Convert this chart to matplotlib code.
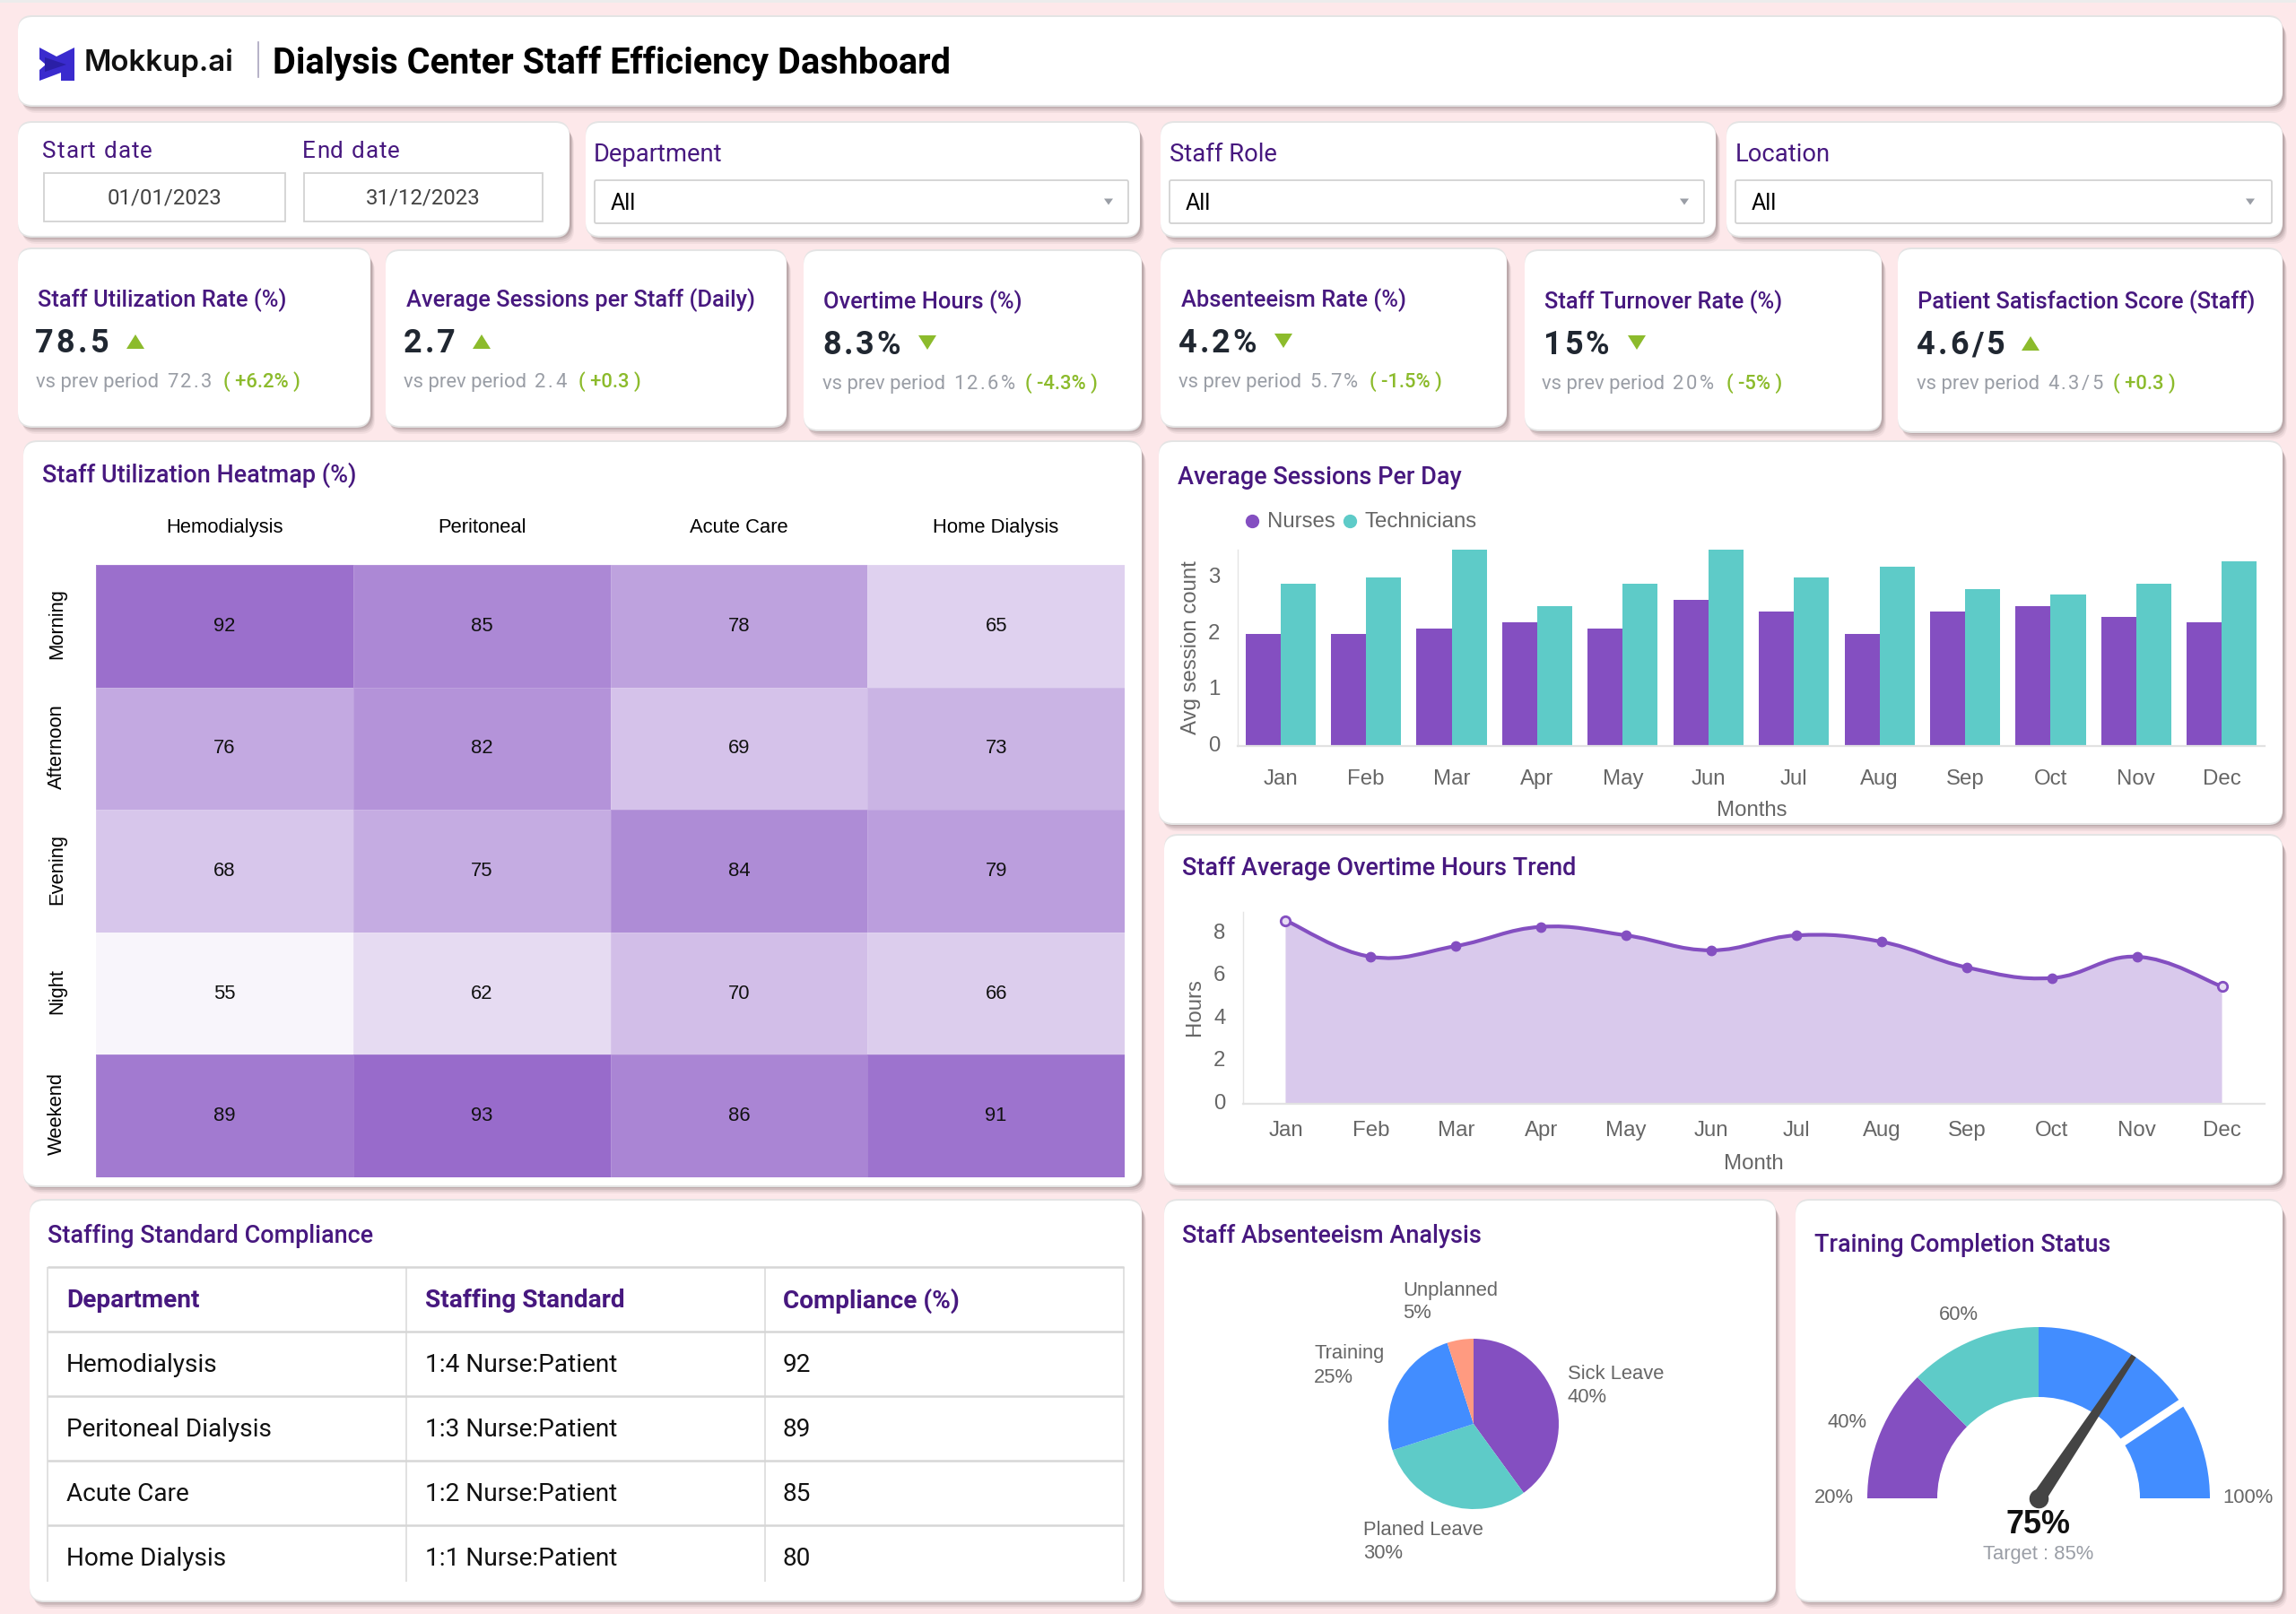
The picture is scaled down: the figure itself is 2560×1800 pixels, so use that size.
"""Dialysis Center Staff Efficiency Dashboard, laid out in reference pixels."""
import numpy as np
import matplotlib
matplotlib.use("Agg")
import matplotlib.pyplot as plt
from matplotlib.patches import FancyBboxPatch, Rectangle, Polygon, PathPatch, Wedge
from matplotlib.path import Path
from matplotlib.colors import LinearSegmentedColormap, Normalize
from matplotlib.transforms import ScaledTranslation

W, H, DPI = 2560, 1800, 100
plt.rcParams["font.family"] = ["Liberation Sans", "DejaVu Sans"]

PURPLE, TEAL, BLUE, CORAL = "#844fc1", "#5ecbc8", "#428dff", "#ff9a80"
TITLE_COL, GREEN, GREY_TXT = "#47187f", "#8cbb2c", "#9a9ea6"
TICK_COL = "#666666"
UI = "Roboto"

# ---- data
months = ["Jan", "Feb", "Mar", "Apr", "May", "Jun", "Jul", "Aug", "Sep", "Oct", "Nov", "Dec"]
nurses = [2.0, 2.0, 2.1, 2.2, 2.1, 2.6, 2.4, 2.0, 2.4, 2.5, 2.3, 2.2]
technicians = [2.9, 3.0, 3.5, 2.5, 2.9, 3.5, 3.0, 3.2, 2.8, 2.7, 2.9, 3.3]
overtime = [8.6, 6.9, 7.4, 8.3, 7.9, 7.2, 7.9, 7.6, 6.4, 5.9, 6.9, 5.5]

heat_cols = ["Hemodialysis", "Peritoneal", "Acute Care", "Home Dialysis"]
heat_rows = ["Morning", "Afternoon", "Evening", "Night", "Weekend"]
heat_vals = [[92, 85, 78, 65], [76, 82, 69, 73], [68, 75, 84, 79], [55, 62, 70, 66], [89, 93, 86, 91]]

table_head = ["Department", "Staffing Standard", "Compliance (%)"]
table_dept = ["Hemodialysis", "Peritoneal Dialysis", "Acute Care", "Home Dialysis"]
table_std = ["1:4 Nurse:Patient", "1:3 Nurse:Patient", "1:2 Nurse:Patient", "1:1 Nurse:Patient"]
table_comp = ["92", "89", "85", "80"]

absence_labels = ["Sick Leave", "Planed Leave", "Training", "Unplanned"]
absence_vals = [40, 30, 25, 5]
absence_cols = [PURPLE, TEAL, BLUE, CORAL]

gauge_stops = [20, 40, 60, 100]
gauge_cols = [PURPLE, TEAL, BLUE]
gauge_value = 75
gauge_target = 85

kpi_titles = ["Staff Utilization Rate (%)", "Average Sessions per Staff (Daily)", "Overtime Hours (%)",
              "Absenteeism Rate (%)", "Staff Turnover Rate (%)", "Patient Satisfaction Score (Staff)"]
kpi_values = ["78.5", "2.7", "8.3%", "4.2%", "15%", "4.6/5"]
kpi_prev = ["72.3", "2.4", "12.6%", "5.7%", "20%", "4.3/5"]
kpi_delta = ["( +6.2% )", "( +0.3 )", "( -4.3% )", "( -1.5% )", "( -5% )", "( +0.3 )"]
kpi_up = [True, True, False, False, False, True]

fig = plt.figure(figsize=(W / DPI, H / DPI), dpi=DPI, facecolor="#fde8ea")
bg = fig.add_axes([0, 0, 1, 1], zorder=0)
bg.set_xlim(0, W); bg.set_ylim(H, 0); bg.axis("off")
renderer = fig.canvas.get_renderer()


def axes_px(x0, y0, x1, y1, z=2):
    a = fig.add_axes([x0 / W, 1 - y1 / H, (x1 - x0) / W, (y1 - y0) / H], zorder=z)
    a.patch.set_alpha(0)
    return a


def T(x, y, s, size, color="#000000", family=UI, weight="normal", ha="left", va="center", **kw):
    if family == UI and va == "center":
        y += 2
    return bg.text(x, y, s, fontsize=size * 72 / DPI, color=color, family=family,
                   fontweight=weight, ha=ha, va=va, **kw)


def spaced(x, y, s, size, gap, **kw):
    # letter-spaced text, one character at a time
    for ch in s:
        if ch == " ":
            x += size * 0.25 + gap
            continue
        t = T(x, y, ch, size, va="baseline", **kw)
        x += t.get_window_extent(renderer).width + gap
    return x


def card(x0, y0, x1, y1, r=16):
    for dx, dy, a in [(5, 9, .06), (4, 7, .09), (3, 5, .12), (2, 3, .14)]:
        bg.add_patch(FancyBboxPatch((x0 + dx, y0 + dy), x1 - x0, y1 - y0,
                                    boxstyle=f"round,pad=0,rounding_size={r}", fc="#4a3a3c", ec="none", alpha=a))
    bg.add_patch(FancyBboxPatch((x0, y0 - 2), x1 - x0, y1 - y0 + 4,
                                boxstyle=f"round,pad=0,rounding_size={r}", fc="#e4e4e4", ec="none"))
    bg.add_patch(FancyBboxPatch((x0, y0), x1 - x0, y1 - y0,
                                boxstyle=f"round,pad=0,rounding_size={r}", fc="white", ec="none"))


def triangle(cx, cy, w, h, up, color):
    s = 1 if up else -1
    bg.add_patch(Polygon([(cx - w / 2, cy + s * h / 2), (cx + w / 2, cy + s * h / 2), (cx, cy - s * h / 2)],
                         closed=True, fc=color, ec="none"))


def spline_path(xs, ys, k=0.2):
    # smooth curve through the data points
    verts, codes = [(xs[0], ys[0])], [Path.MOVETO]
    n = len(xs)
    for i in range(n - 1):
        p0, p1, p2, p3 = max(i - 1, 0), i, i + 1, min(i + 2, n - 1)
        verts += [(xs[p1] + k * (xs[p2] - xs[p0]), ys[p1] + k * (ys[p2] - ys[p0])),
                  (xs[p2] - k * (xs[p3] - xs[p1]), ys[p2] - k * (ys[p3] - ys[p1])),
                  (xs[p2], ys[p2])]
        codes += [Path.CURVE4] * 3
    return verts, codes


def style_chart(a, ylabel_ticks, pad_x):
    for s in ("top", "right"):
        a.spines[s].set_visible(False)
    a.spines["left"].set_color("#e4e4e4"); a.spines["left"].set_linewidth(1)
    a.spines["bottom"].set_color("#e2e2e2"); a.spines["bottom"].set_linewidth(1.6)
    a.set_xticks(range(12)); a.set_xticklabels(months)
    a.set_yticks(ylabel_ticks)
    a.tick_params(length=0, colors=TICK_COL, labelsize=24 * 72 / DPI)
    a.tick_params(axis="x", pad=pad_x)
    a.tick_params(axis="y", pad=14)
    up = ScaledTranslation(0, 2.5 / DPI, fig.dpi_scale_trans)
    for lab in a.get_yticklabels():
        lab.set_transform(lab.get_transform() + up)


# ---- page edge and cards
bg.add_patch(Rectangle((0, 0), W, 3, fc="#ececec", ec="none"))
for box in [(20, 19, 2545, 117), (20, 137, 635, 263), (653, 137, 1271, 263), (1294, 137, 1913, 263),
            (1925, 137, 2545, 263), (20, 278, 413, 475), (430, 280, 877, 475), (896, 280, 1273, 479),
            (1294, 278, 1680, 475), (1700, 280, 2098, 479), (2116, 278, 2545, 481), (26, 493, 1273, 1322),
            (1292, 493, 2545, 918), (1298, 932, 2545, 1320), (33, 1339, 1273, 1785), (1298, 1339, 1980, 1785),
            (2002, 1339, 2545, 1785)]:
    card(*box)

# ---- header
bg.add_patch(Polygon([(44, 53), (63, 63), (83, 53), (83, 90), (68, 90), (68, 81), (44, 90), (44, 78), (51, 72), (44, 66)],
                     closed=True, fc="#3a2bce", ec="none"))
bg.add_patch(Polygon([(50, 64), (74, 72), (50, 80)], closed=True, fc="#2a1fa6", ec="none"))
T(94, 70, "Mokkup.ai", 33, color="#111111", family="Inter", weight="semibold")
bg.plot([288, 288], [47, 86], color="#a9a4bd", lw=1.2)
T(304, 68, "Dialysis Center Staff Efficiency Dashboard", 39.8, family=UI, weight="bold")

# ---- filters
spaced(47, 176, "Start date", 26, 1.1, color=TITLE_COL)
spaced(337, 176, "End date", 26, 1.1, color=TITLE_COL)
for x0, x1, label in [(49, 318, "01/01/2023"), (339, 605, "31/12/2023")]:
    bg.add_patch(Rectangle((x0, 193), x1 - x0, 54, fc="white", ec="#d2d2d2", lw=1.3))
    T((x0 + x1) / 2, 219, label, 24, color="#444444", ha="center")
for lab, lab_x, x0, x1, arrow_x in [("Department", 662, 663, 1258, 1236), ("Staff Role", 1304, 1304, 1900, 1878),
                                    ("Location", 1935, 1935, 2533, 2509)]:
    T(lab_x, 170, lab, 27.4, color=TITLE_COL)
    bg.add_patch(FancyBboxPatch((x0, 201), x1 - x0, 48, boxstyle="round,pad=0,rounding_size=2",
                                fc="white", ec="#d2d2d2", lw=1.3))
    T(x0 + 18, 225, "All", 25, color="#000000")
    triangle(arrow_x, 225, 10, 7, False, "#9a9ea6")

# ---- KPI cards
kpi_x = [(42, 39, 40, 151, 249), (453, 450, 450, 537, 645), (918, 917, 917, 1034, 1143),
         (1317, 1314, 1314, 1431, 1527), (1722, 1720, 1719, 1825, 1925), (2138, 2137, 2137, 2264, 2356)]
kpi_y = [0, 0, 2, 0, 2, 2]
for i, (tx, vx, sx, ax_, dx) in enumerate(kpi_x):
    dy = kpi_y[i]
    T(tx, 333 + dy, kpi_titles[i], 25.5, color=TITLE_COL, weight="medium")
    spaced(vx, 393 + dy, kpi_values[i], 36, 3, color="#202731", weight="bold")
    triangle(ax_, 381 + dy - (0 if kpi_up[i] else 1), 20, 16, kpi_up[i], GREEN)
    T(sx, 432 + dy, "vs prev period", 22, color=GREY_TXT, va="baseline")
    spaced(sx + 146, 432 + dy, kpi_prev[i], 22, 2.5, color=GREY_TXT)
    T(dx, 432 + dy, kpi_delta[i], 22, color=GREEN, weight="medium", va="baseline")

# ---- heatmap
T(47, 528, "Staff Utilization Heatmap (%)", 27, color=TITLE_COL, weight="medium")
ax_h = axes_px(107, 630, 1254, 1313)
cmap = LinearSegmentedColormap.from_list("heat", ["#ffffff", PURPLE])
ax_h.pcolormesh(np.array(heat_vals), cmap=cmap, norm=Normalize(52, 101), edgecolors=(1, 1, 1, .12), linewidth=.5)
ax_h.set_ylim(len(heat_rows), 0)
ax_h.set_xticks(np.arange(4) + .5); ax_h.set_xticklabels(heat_cols)
ax_h.set_yticks(np.arange(5) + .5)
ax_h.set_yticklabels(heat_rows, rotation=90, va="center")
ax_h.xaxis.tick_top()
ax_h.tick_params(length=0, labelsize=22 * 72 / DPI, labelcolor="#000000")
ax_h.tick_params(axis="x", pad=22.4)
ax_h.tick_params(axis="y", pad=23.5)
row_up = ScaledTranslation(0, 2.5 / DPI, fig.dpi_scale_trans)
for lab in ax_h.get_yticklabels():
    lab.set_transform(lab.get_transform() + row_up)
for s in ax_h.spines.values():
    s.set_visible(False)
for r, row in enumerate(heat_vals):
    for c, v in enumerate(row):
        ax_h.text(c + .5, r + .5, str(v), ha="center", va="center", fontsize=22 * 72 / DPI, color="#111111")

# ---- sessions bars
T(1313, 530, "Average Sessions Per Day", 27, color=TITLE_COL, weight="medium")
ax_b = axes_px(1380, 613, 2525, 832)
xb = np.arange(12)
w = 0.41
ax_b.bar(xb - w / 2, nurses, w, color=PURPLE)
ax_b.bar(xb + w / 2, technicians, w, color=TEAL)
ax_b.set_xlim(-.5, 11.5); ax_b.set_ylim(0, 3.5)
style_chart(ax_b, [0, 1, 2, 3], 18.5)
bg.plot([1396], [581], "o", color=PURPLE, ms=10)
T(1413, 582, "Nurses", 24, color=TICK_COL, family="Liberation Sans")
bg.plot([1504.5], [581], "o", color=TEAL, ms=10)
T(1521, 582, "Technicians", 24, color=TICK_COL, family="Liberation Sans")
T(1328, 722, "Avg session count", 24, color=TICK_COL, family="Liberation Sans", rotation=90, ha="center")
T(1953, 904, "Months", 24, color=TICK_COL, family="Liberation Sans", ha="center")

# ---- overtime trend
T(1318, 967, "Staff Average Overtime Hours Trend", 27, color=TITLE_COL, weight="medium")
ax_l = axes_px(1386, 1017, 2525, 1231)
xl = list(range(12))
verts, codes = spline_path(xl, overtime)
ax_l.add_patch(PathPatch(Path(verts + [(11, 0), (0, 0), (0, 0)], codes + [Path.LINETO, Path.LINETO, Path.CLOSEPOLY]),
                         fc="#d9c9ec", ec="none"))
ax_l.add_patch(PathPatch(Path(verts, codes), fc="none", ec=PURPLE, lw=3.0))
ax_l.plot(xl, overtime, "o", color=PURPLE, ms=7.5)
ax_l.plot([xl[0], xl[-1]], [overtime[0], overtime[-1]], "o", mfc="#e6dcf3", mec=PURPLE, mew=2, ms=7.5)
ax_l.set_xlim(-.5, 11.5); ax_l.set_ylim(0, 9)
style_chart(ax_l, [0, 2, 4, 6, 8], 14)
T(1332, 1123, "Hours", 24, color=TICK_COL, family="Liberation Sans", rotation=90, ha="center")
T(1955, 1298, "Month", 24, color=TICK_COL, family="Liberation Sans", ha="center")

# ---- compliance table
T(53, 1376, "Staffing Standard Compliance", 27, color=TITLE_COL, weight="medium")
for x in (53, 453, 853, 1253):
    bg.plot([x, x], [1413, 1764], color="#d8d8d8", lw=1.1, solid_capstyle="butt")
for y in (1413, 1485, 1557, 1629, 1701):
    bg.plot([53, 1253], [y, y], color="#d6d6d6", lw=1.8, solid_capstyle="butt")
for x, head, col in zip((74, 474, 873), table_head, (table_dept, table_std, table_comp)):
    T(x, 1449, head, 28, color=TITLE_COL, weight="bold")
    for y, cell in zip((1521, 1593, 1665, 1737), col):
        T(x, y, cell, 28, color="#111111")

# ---- absenteeism pie
T(1318, 1376, "Staff Absenteeism Analysis", 27, color=TITLE_COL, weight="medium")
ax_p = axes_px(1548, 1493, 1738, 1683)
ax_p.pie(absence_vals, colors=absence_cols, startangle=90, counterclock=False)
ax_p.set_xlim(-1, 1); ax_p.set_ylim(-1, 1)
for i, (x, y) in zip((0, 1, 2, 3), [(1748, 1532), (1520, 1706), (1465, 1510), (1564, 1439)]):
    T(x, y, absence_labels[i], 22, color=TICK_COL, family="Liberation Sans")
    T(x, y + 26, f"{absence_vals[i]}%", 22, color=TICK_COL, family="Liberation Sans")

# ---- training gauge
T(2023, 1386, "Training Completion Status", 27, color=TITLE_COL, weight="medium")
cx, cy, R_out, R_in = 2273, 1671, 191, 113
ax_g = axes_px(cx - 210, cy - 210, cx + 210, cy + 30)
ax_g.set_xlim(-210, 210); ax_g.set_ylim(-30, 210); ax_g.axis("off")


def gauge_angle(v):
    return 180 - 180 * (v - gauge_stops[0]) / (gauge_stops[-1] - gauge_stops[0])


for lo, hi, col in zip(gauge_stops[:-1], gauge_stops[1:], gauge_cols):
    ax_g.add_patch(Wedge((0, 0), R_out, gauge_angle(hi), gauge_angle(lo), width=R_out - R_in, fc=col, ec="none"))
t_ang = np.radians(gauge_angle(gauge_target))
ax_g.plot([105 * np.cos(t_ang), 200 * np.cos(t_ang)], [105 * np.sin(t_ang), 200 * np.sin(t_ang)],
          color="white", lw=6.5, solid_capstyle="butt")
n_ang = np.radians(gauge_angle(gauge_value))
ux, uy = np.cos(n_ang), np.sin(n_ang)
px_, py_ = -uy, ux
ax_g.add_patch(Polygon([(px_ * 8, py_ * 8), (R_out * ux + px_ * 3, R_out * uy + py_ * 3),
                        (R_out * ux - px_ * 3, R_out * uy - py_ * 3), (-px_ * 8, -py_ * 8)],
                       closed=True, fc="#444444", ec="none"))
ax_g.plot([0], [0], "o", color="#444444", ms=14.5)
for v, x, y in [(20, 2045, 1671), (40, 2060, 1586), (60, 2184, 1466), (100, 2506, 1670)]:
    T(x, y, f"{v}%", 22, color=TICK_COL, family="Liberation Sans", ha="center")
T(cx, 1700, f"{gauge_value}%", 36, family="Liberation Sans", weight="bold", ha="center", color="#111111")
T(cx, 1733, f"Target : {gauge_target}%", 22, family="Liberation Sans", ha="center", color=GREY_TXT)

fig.savefig("out.png", dpi=DPI, facecolor=fig.get_facecolor())
